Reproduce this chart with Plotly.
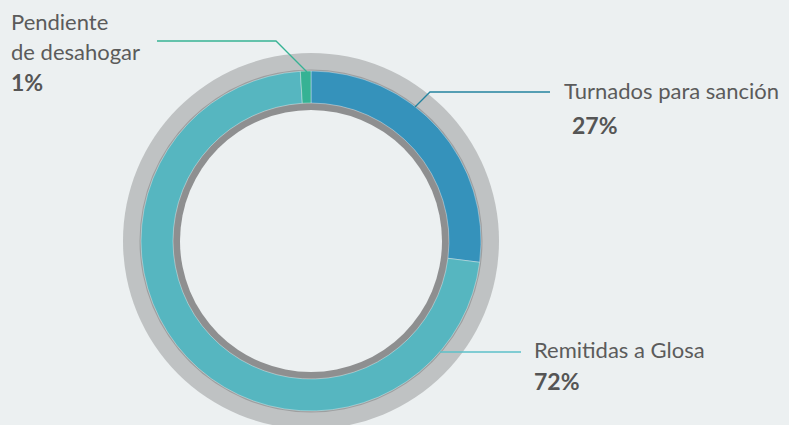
import plotly.graph_objects as go

W, H = 789, 425

# data
categories = ['Turnados para sanción', 'Remitidas a Glosa', 'Pendiente de desahogar']
values = [27, 72, 1]
colors = ['#3592bb', '#56b6c0', '#36b294']
line_colors = ['#23839f', '#5cc0c8', '#36b294']

bg = '#ecf0f1'
cx, cy = 311, 241          # centre of the ring, in pixels
r_outer, r_pie, r_hole, r_inner = 188, 170, 138, 131


def px(x):
    return x / W


def py(y):
    return 1 - y / H


def circle(r, fill):
    return dict(type='circle', xref='paper', yref='paper', layer='below',
                x0=px(cx - r), x1=px(cx + r), y0=py(cy + r), y1=py(cy - r),
                fillcolor=fill, line=dict(width=0))


fig = go.Figure(go.Pie(
    labels=categories,
    values=values,
    sort=False,
    direction='clockwise',
    rotation=0,
    hole=r_hole / r_pie,
    marker=dict(colors=colors, line=dict(color='rgba(255,255,255,0.35)', width=1)),
    textinfo='none',
    hoverinfo='label+percent',
    showlegend=False,
    domain=dict(x=[px(cx - r_pie), px(cx + r_pie)], y=[py(cy + r_pie), py(cy - r_pie)]),
))

shapes = [
    circle(r_outer, '#bfc2c3'),
    circle(r_pie + 1.5, '#9d9fa0'),
    circle(r_hole, '#8e8f90'),
    circle(r_inner, bg),
]

# leader lines
leaders = [
    [(550, 92), (430, 92), (415, 107)],
    [(521, 352), (440, 352)],
    [(157, 41), (276, 41), (307, 72)],
]
for pts, c in zip(leaders, line_colors):
    path = 'M' + ' L'.join(f'{px(x)},{py(y)}' for x, y in pts)
    shapes.append(dict(type='path', xref='paper', yref='paper', path=path,
                       line=dict(color=c, width=1.3)))

font_name = 'Lato, Roboto, sans-serif'
label_lines = [
    ['Turnados para sanción'],
    ['Remitidas a Glosa'],
    ['Pendiente', 'de desahogar'],
]
label_pos = [(562, [90]), (532, [349]), (9, [22, 51])]
pct_pos = [(570, 125), (532, 381), (9, 82)]

annotations = []
for lines, (lx, ys), v, (qx, qy) in zip(label_lines, label_pos, values, pct_pos):
    for t, y in zip(lines, ys):
        annotations.append(dict(text=t, x=px(lx), y=py(y), xref='paper', yref='paper',
                                xanchor='left', yanchor='middle', showarrow=False,
                                font=dict(family=font_name, size=22, color='#5b5b5b')))
    annotations.append(dict(text=f'<b>{v}%</b>', x=px(qx), y=py(qy), xref='paper', yref='paper',
                            xanchor='left', yanchor='middle', showarrow=False,
                            font=dict(family=font_name, size=23, color='#555555')))

fig.update_layout(
    width=W, height=H,
    margin=dict(l=0, r=0, t=0, b=0),
    paper_bgcolor=bg, plot_bgcolor=bg,
    shapes=shapes,
    annotations=annotations,
)

fig.write_html('out.html', config={'displayModeBar': False},
               post_script="document.body.style.margin='0';document.body.style.background='" + bg + "';")
